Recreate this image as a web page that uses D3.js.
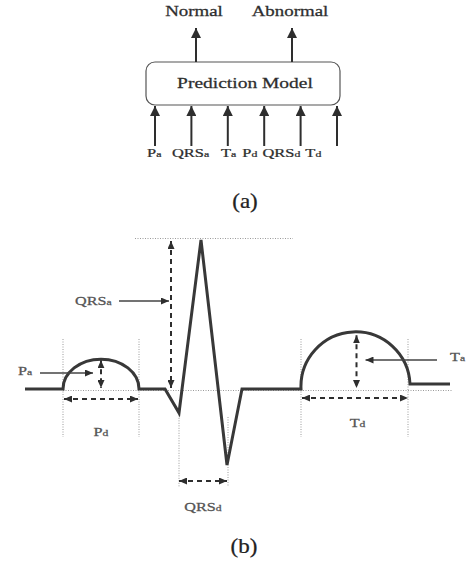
<!DOCTYPE html>
<html>
<head>
<meta charset="utf-8">
<script src="https://cdn.jsdelivr.net/npm/d3@7"></script>
<style>
  html, body { margin: 0; padding: 0; background: #fff; }
  svg { display: block; }
  text { font-family: "Liberation Serif", "DejaVu Serif", serif; }
</style>
</head>
<body>
<svg id="chart" width="468" height="562"></svg>
<script>
// (a) block diagram labels
const outputs = ['Normal', 'Abnormal']
const inputs = ['Pa', 'QRSa', 'Ta', 'Pd', 'QRSd', 'Td']

// (b) ECG key points: time (ms) and amplitude (mV)
const ecgTime = [0, 76, 228, 280, 308, 352, 404, 434, 552, 770, 850]
const ecgAmp = [0, 0, 0, 0, -0.24, 1.5, -0.765, 0, 0, 0.05, 0.05]
// rounded waves drawn as arcs between two key points
const waves = [
  { name: 'P', start: 76, end: 228, amp: 0.3 },
  { name: 'T', start: 552, end: 770, amp: 0.55 },
]
const qrs = { onset: 300, q: 308, s: 404, peak: 1.5 }

const STRETCH = 1.35
const INK = '#2e2e2e'
const GUIDE = '#9a9a9a'

const svg = d3.select('#chart')
const defs = svg.append('defs')

const addMarker = (id, w, h) => {
  defs.append('marker')
    .attr('id', id)
    .attr('viewBox', `0 0 ${w} ${h}`)
    .attr('markerUnits', 'userSpaceOnUse')
    .attr('markerWidth', w)
    .attr('markerHeight', h)
    .attr('refX', w)
    .attr('refY', h / 2)
    .attr('orient', 'auto-start-reverse')
    .append('path')
    .attr('d', `M0,0L${w},${h / 2}L0,${h}Z`)
    .attr('fill', INK)
}
addMarker('big', 10, 10)
addMarker('small', 8, 7)

// stretched serif label with an optional small subscript (last letter)
const label = (g, x, y, str, size, opts = {}) => {
  const t = g.append('text')
    .attr('transform', `translate(${x},${y}) scale(${opts.sx || STRETCH},1)`)
    .attr('text-anchor', opts.anchor || 'middle')
    .attr('font-size', size)
    .attr('fill', opts.fill || INK)
    .attr('stroke', opts.fill || INK)
    .attr('stroke-width', 0.25)
  if (opts.sub) {
    t.append('tspan').text(str.slice(0, -1))
    t.append('tspan').attr('font-size', size * 0.72).text(str.slice(-1))
  } else {
    t.text(str)
  }
  return t
}

// ---------- (a) ----------
const panelA = svg.append('g')
const box = { x0: 146, x1: 340, y0: 62, y1: 105 }

const xOut = d3.scalePoint().domain(outputs).range([196, 292])
const xIn = d3.scalePoint().domain(inputs).range([155, 337])

panelA.append('rect')
  .attr('x', box.x0).attr('y', box.y0)
  .attr('width', box.x1 - box.x0).attr('height', box.y1 - box.y0)
  .attr('rx', 9)
  .attr('fill', 'none').attr('stroke', '#555').attr('stroke-width', 1.2)

label(panelA, (box.x0 + box.x1) / 2 + 2, 88, 'Prediction Model', 15, { sx: 1.3 })

panelA.selectAll('line.out')
  .data(outputs).join('line')
  .attr('class', 'out')
  .attr('x1', (d) => xOut(d)).attr('x2', (d) => xOut(d))
  .attr('y1', box.y0).attr('y2', 28)
  .attr('stroke', INK).attr('stroke-width', 2)
  .attr('marker-end', 'url(#big)')

outputs.forEach((d) => label(panelA, xOut(d) - 2, 16, d, 14))

panelA.selectAll('line.in')
  .data(inputs).join('line')
  .attr('class', 'in')
  .attr('x1', (d) => xIn(d)).attr('x2', (d) => xIn(d))
  .attr('y1', 146).attr('y2', box.y1 + 1)
  .attr('stroke', INK).attr('stroke-width', 2)
  .attr('marker-end', 'url(#big)')

// input names on one line, stretched to the row width
const row = panelA.append('text')
  .attr('font-size', 12.5)
  .attr('fill', INK)
  .attr('stroke', INK)
  .attr('stroke-width', 0.25)
const gaps = [0, 8, 9, 4.5, 3.8, 3.8]
inputs.forEach((d, i) => {
  row.append('tspan').attr('dx', gaps[i]).text(d.slice(0, -1))
  row.append('tspan').attr('font-size', 9).text(d.slice(-1))
})
const rowW = row.node().getBBox().width
row.attr('transform', `translate(147,157) scale(${175 / rowW},1)`)

label(panelA, 245, 208, '(a)', 20, { sx: 1.15, fill: '#222' })

// ---------- (b) ----------
const ecg = svg.append('g')
const x = d3.scaleLinear().domain([0, 850]).range([25, 450])
const y = d3.scaleLinear().domain([0, 1.5]).range([389, 240])

const pts = ecgTime.map((t, i) => ({ t, a: ecgAmp[i] }))

// dotted guides
const guide = (x1, y1, x2, y2) => ecg.append('line')
  .attr('x1', x1).attr('y1', y1).attr('x2', x2).attr('y2', y2)
  .attr('stroke', GUIDE).attr('stroke-width', 1)
  .attr('stroke-dasharray', '1,1.5')

guide(x(waves[0].start), y(0) + 1.5, x(850) + 2, y(0) + 1.5)
guide(x(qrs.onset) - 40, y(qrs.peak) - 1.5, x(qrs.s) + 66, y(qrs.peak) - 1.5)
waves.forEach((w) => {
  const off = w.name === 'T' ? 2 : 0
  guide(x(w.start), y(0) - 50, x(w.start), y(0) + 48)
  guide(x(w.end) - off, y(0) - 50, x(w.end) - off, y(0) + 48)
})
guide(x(qrs.q), y(ecgAmp[4]), x(qrs.q), y(0) + 98)
guide(x(qrs.s) + 1, y(ecgAmp[6]) - 48, x(qrs.s) + 1, y(0) + 98)

// signal path
let d = `M${x(pts[0].t)},${y(pts[0].a)}`
for (let i = 1; i < pts.length; i++) {
  const p = pts[i]
  const w = waves.find((v) => v.start === pts[i - 1].t && v.end === p.t)
  if (w) {
    const rx = (x(w.end) - x(w.start)) / 2
    const ry = y(0) - y(w.amp)
    d += `A${rx},${ry} 0 0 1 ${x(p.t)},${y(p.a)}`
  } else {
    d += `L${x(p.t)},${y(p.a)}`
  }
}
ecg.append('path')
  .attr('d', d)
  .attr('fill', 'none')
  .attr('stroke', '#383838')
  .attr('stroke-width', 3)
  .attr('stroke-linejoin', 'miter')

// dashed measurement arrows
const measure = (x1, y1, x2, y2) => ecg.append('line')
  .attr('x1', x1).attr('y1', y1).attr('x2', x2).attr('y2', y2)
  .attr('stroke', INK).attr('stroke-width', 2)
  .attr('stroke-dasharray', '5,4')
  .attr('marker-start', 'url(#small)')
  .attr('marker-end', 'url(#small)')

const pMid = (waves[0].start + waves[0].end) / 2
const tMid = (waves[1].start + waves[1].end) / 2
measure(x(pMid), y(waves[0].amp) + 1, x(pMid), y(0) - 1)
measure(x(tMid) + 1, y(waves[1].amp) + 1, x(tMid) + 1, y(0) - 1)
measure(x(qrs.onset) - 4, y(qrs.peak) + 1, x(qrs.onset) - 4, y(0) - 1)
measure(x(waves[0].start) + 1, y(0) + 10, x(waves[0].end) - 1, y(0) + 10)
measure(x(waves[1].start) + 1, y(0) + 9, x(waves[1].end) - 2, y(0) + 9)
measure(x(qrs.q), y(0) + 92, x(qrs.s), y(0) + 92)

// solid pointers
const pointer = (x1, yy, x2) => ecg.append('line')
  .attr('x1', x1).attr('y1', yy).attr('x2', x2).attr('y2', yy)
  .attr('stroke', '#444').attr('stroke-width', 1.6)
  .attr('marker-end', 'url(#small)')

pointer(119, 301, x(qrs.onset) - 6)
pointer(40, 373, x(pMid) - 8)
pointer(437, 360, x(tMid) + 10)

const LBL = '#555'
label(ecg, 75, 305, 'QRSa', 12, { anchor: 'start', sub: true, fill: LBL })
label(ecg, 18, 375, 'Pa', 12, { anchor: 'start', sub: true, fill: LBL })
label(ecg, 450, 361, 'Ta', 12, { anchor: 'start', sub: true, fill: LBL })
label(ecg, x(pMid), 436, 'Pd', 12, { sub: true, fill: LBL })
label(ecg, x(tMid) + 2, 427, 'Td', 12, { sub: true, fill: LBL })
label(ecg, (x(qrs.q) + x(qrs.s)) / 2, 511, 'QRSd', 12, { sub: true, fill: LBL })

label(ecg, 244, 553, '(b)', 20, { sx: 1.15, fill: '#222' })
</script>
</body>
</html>
